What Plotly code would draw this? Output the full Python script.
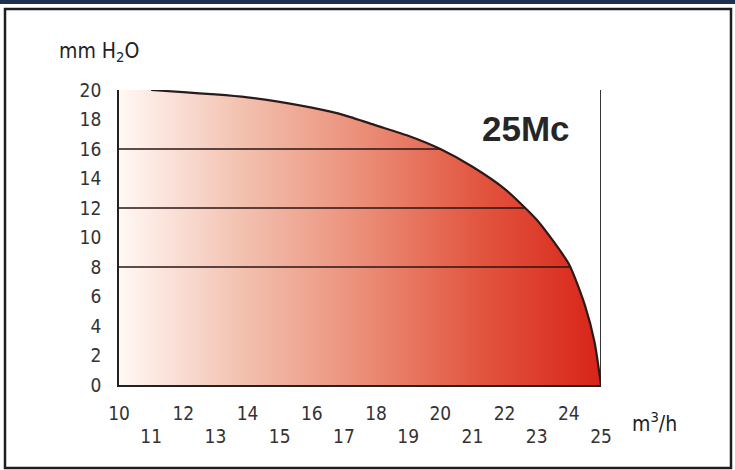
import numpy as np
import plotly.graph_objects as go

# Data
flow = [10, 11, 12, 13, 14, 15, 16, 17, 18, 19, 20, 21, 22, 23, 24, 24.5, 24.8, 25]   # m³/h
head = [20, 20, 19.85, 19.7, 19.5, 19.2, 18.8, 18.3, 17.6, 16.9, 16.0, 14.8, 13.3, 11.2, 8.2, 5.4, 2.9, 0]  # mm H2O
levels = [8, 12, 16]
x_even = [10, 12, 14, 16, 18, 20, 22, 24]
x_odd = [11, 13, 15, 17, 19, 21, 23, 25]
y_ticks = [0, 2, 4, 6, 8, 10, 12, 14, 16, 18, 20]
model = "25Mc"

TICKFONT = dict(family="Liberation Sans Narrow, DejaVu Sans Condensed, Arial Narrow, sans-serif",
                size=19, color="#333333")

fig = go.Figure()

# gradient-filled area under the curve
fig.add_trace(go.Scatter(
    x=flow, y=head, mode="lines", line=dict(width=0, color="rgba(0,0,0,0)", shape="spline", smoothing=0.6),
    fill="tozeroy",
    fillgradient=dict(type="horizontal",
                      colorscale=[[0, "#fff8f5"], [0.25, "#f3c2b1"], [0.5, "#eb8f79"],
                                  [0.75, "#e2553f"], [1, "#d82419"]]),
    hoverinfo="skip", showlegend=False))

# horizontal lines up to the curve
rev_h = head[::-1]
rev_f = flow[::-1]
for lv in levels:
    xe = float(np.interp(lv, rev_h, rev_f))
    fig.add_trace(go.Scatter(x=[flow[0], xe], y=[lv, lv], mode="lines",
                             line=dict(color="#2a1414", width=1.6),
                             hoverinfo="skip", showlegend=False))

# curve outline
fig.add_trace(go.Scatter(x=flow[1:], y=head[1:], mode="lines",
                         line=dict(color="#2a1a1a", width=2.2, shape="spline", smoothing=0.6),
                         hoverinfo="skip", showlegend=False))

# odd tick labels on a second, overlaid axis (staggered lower)
fig.add_trace(go.Scatter(x=[flow[0], flow[-1]], y=[0, 0], xaxis="x2", mode="markers",
                         marker=dict(opacity=0), hoverinfo="skip", showlegend=False))

fig.update_layout(
    width=735, height=470,
    margin=dict(l=119, r=134, t=90, b=85),
    paper_bgcolor="white", plot_bgcolor="white",
    xaxis=dict(range=[flow[0], flow[-1]], tickvals=x_even, ticktext=[str(v) for v in x_even],
               showgrid=False, zeroline=False, showline=True, linecolor="#222222", linewidth=1.8,
               ticks="", tickfont=TICKFONT, ticklabelstandoff=10),
    xaxis2=dict(range=[flow[0], flow[-1]], overlaying="x", side="bottom", anchor="y",
                tickvals=x_odd, ticktext=[str(v) for v in x_odd],
                showgrid=False, zeroline=False, showline=False, ticks="",
                tickfont=TICKFONT, ticklabelstandoff=38),
    yaxis=dict(range=[0, 20], tickvals=y_ticks, ticktext=[str(v) for v in y_ticks],
               showgrid=False, zeroline=False, showline=True, linecolor="#222222", linewidth=1.8,
               ticks="", tickfont=TICKFONT, ticklabelstandoff=12),
    shapes=[
        # right border of the chart at max flow
        dict(type="line", xref="x", yref="y", x0=flow[-1], x1=flow[-1], y0=0, y1=20,
             line=dict(color="#222222", width=1.8)),
        # outer frame
        dict(type="rect", xref="paper", yref="paper", x0=-0.2365, x1=1.2697, y0=-0.2814, y1=1.2746,
             line=dict(color="#1e1e1e", width=2.5), layer="below"),
        # top bar
        dict(type="rect", xref="paper", yref="paper", x0=-0.26, x1=1.29, y0=1.2915, y1=1.32,
             line=dict(width=0), fillcolor="#1c3250", layer="below"),
    ],
    annotations=[
        dict(text="mm H<sub>2</sub>O", xref="paper", yref="paper", x=-0.128, y=1.13,
             xanchor="left", yanchor="middle", showarrow=False,
             font=dict(family="Liberation Sans Narrow, DejaVu Sans Condensed, sans-serif",
                       size=21, color="#222222")),
        dict(text="m<sup>3</sup>/h", xref="paper", yref="paper", x=1.06, y=-0.125,
             xanchor="left", yanchor="middle", showarrow=False,
             font=dict(family="Liberation Sans Narrow, DejaVu Sans Condensed, sans-serif",
                       size=21, color="#222222")),
        dict(text="<b>" + model + "</b>", xref="paper", yref="paper", x=0.844, y=0.871,
             xanchor="center", yanchor="middle", showarrow=False,
             font=dict(family="Liberation Sans, Arial, sans-serif", size=35, color="#262626")),
    ],
)

fig.write_html("out.html", config={"displayModeBar": False},
               post_script="document.body.style.margin='0';")
